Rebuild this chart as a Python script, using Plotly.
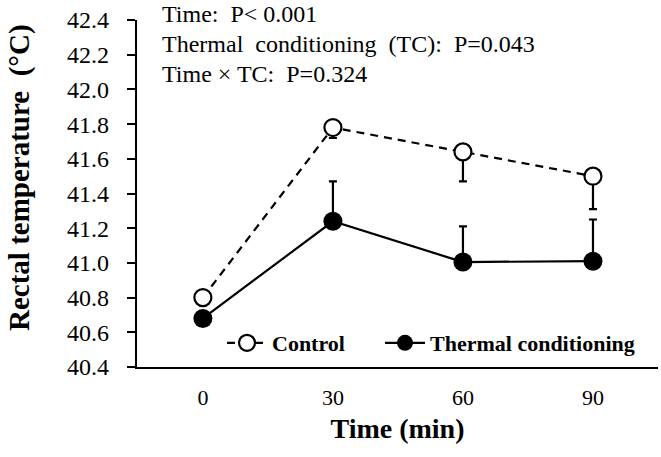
import plotly.graph_objects as go

time_min = [0, 30, 60, 90]
control_mean = [40.80, 41.78, 41.64, 41.50]
control_sd = [0.0, 0.06, 0.17, 0.19]
tc_mean = [40.68, 41.24, 41.005, 41.01]
tc_sd = [0.0, 0.23, 0.205, 0.24]
y_ticks = [40.4, 40.6, 40.8, 41.0, 41.2, 41.4, 41.6, 41.8, 42.0, 42.2, 42.4]
x_ticks = [0, 30, 60, 90]
stats_lines = ["Time:  P< 0.001", "Thermal  conditioning  (TC):  P=0.043", "Time × TC:  P=0.324"]

SERIF = "Liberation Serif, Times New Roman, serif"

W, H = 661, 457
L, T = 137, 20
PW, PH = 521, 347
R, B = W - L - PW, H - T - PH


def px_to_dom_x(px):
    return (px - L) / PW


def px_to_dom_y(py):
    return (T + PH - py) / PH


fig = go.Figure()
fig.add_trace(go.Scatter(
    x=time_min, y=control_mean, name="Control", mode="lines+markers", legend="legend",
    line=dict(color="black", width=2.2, dash="8px,6px"),
    marker=dict(symbol="circle", size=17, color="white", line=dict(color="black", width=2.2)),
    error_y=dict(type="data", symmetric=False, array=[0] * 4, arrayminus=control_sd,
                 color="black", thickness=2.2, width=4),
))
fig.add_trace(go.Scatter(
    x=time_min, y=tc_mean, name="Thermal conditioning", mode="lines+markers", legend="legend2",
    line=dict(color="black", width=2.2),
    marker=dict(symbol="circle", size=19, color="black", line=dict(color="black", width=0)),
    error_y=dict(type="data", symmetric=False, array=tc_sd, arrayminus=[0] * 4,
                 color="black", thickness=2.2, width=4),
))

for i, t in enumerate(stats_lines):
    fig.add_annotation(x=px_to_dom_x(160), y=px_to_dom_y(14 + 30 * i),
                       xref="x domain", yref="y domain", text=t.replace("  ", "\u00a0 "),
                       showarrow=False, xanchor="left", yanchor="middle",
                       font=dict(family=SERIF, size=24, color="black"))

# y-axis title
fig.add_annotation(x=px_to_dom_x(19), y=px_to_dom_y(178), xref="x domain", yref="y domain",
                   text="Rectal temperature\u00a0 (°C)", textangle=-90, showarrow=False,
                   xanchor="center", yanchor="middle",
                   font=dict(family=SERIF, size=29, color="black", weight="bold"))

legend_font = dict(family=SERIF, size=22, color="black", weight="bold")
fig.update_layout(
    width=W, height=H,
    margin=dict(l=L, r=R, t=T, b=B),
    paper_bgcolor="white", plot_bgcolor="white",
    showlegend=True,
    legend=dict(orientation="h", x=px_to_dom_x(222), y=px_to_dom_y(343),
                xanchor="left", yanchor="middle", font=legend_font,
                bgcolor="rgba(0,0,0,0)", itemwidth=40),
    legend2=dict(orientation="h", x=px_to_dom_x(380), y=px_to_dom_y(343),
                 xanchor="left", yanchor="middle", font=legend_font,
                 bgcolor="rgba(0,0,0,0)", itemwidth=40),
    font=dict(family=SERIF, color="black"),
)
fig.update_xaxes(range=[-15.2, 105], tickvals=x_ticks, ticks="", showgrid=False,
                 zeroline=False, showline=True, linecolor="black", linewidth=2.2,
                 tickfont=dict(family=SERIF, size=22, color="black"), ticklabelstandoff=9,
                 title=dict(text="Time (min)", font=dict(family=SERIF, size=28, color="black", weight="bold"),
                            standoff=10))
fig.update_yaxes(range=[40.4, 42.4], tickvals=y_ticks, ticktext=[f"{v:.1f}" for v in y_ticks],
                 ticks="outside", ticklen=8, tickwidth=2, tickcolor="black", showgrid=False,
                 zeroline=False, showline=True, linecolor="black", linewidth=2.2,
                 tickfont=dict(family=SERIF, size=24, color="black"), ticklabelstandoff=13,
                 ticklabeloverflow="allow")

fig.write_html("out.html", config={"displayModeBar": False},
               post_script="document.body.style.margin='0';")
